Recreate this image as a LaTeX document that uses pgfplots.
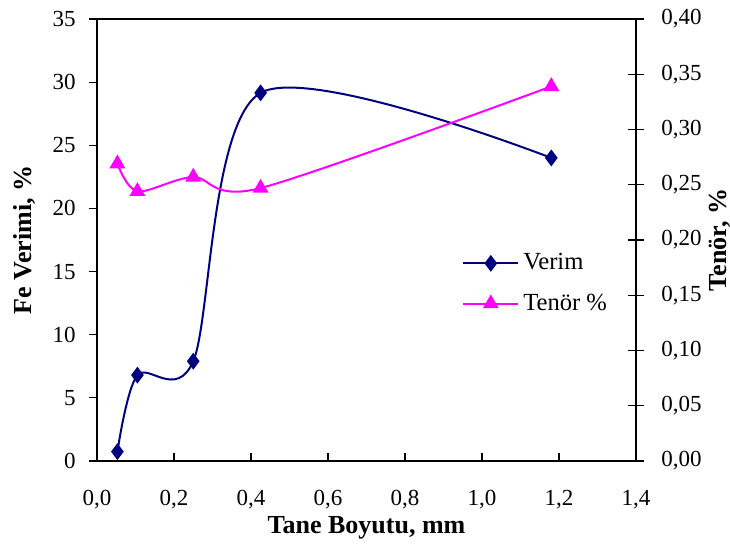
\documentclass[border=0pt]{standalone}
\usepackage{fontspec}
\setmainfont{Liberation Serif}
\usepackage{pgfplots}
\pgfplotsset{compat=1.18}
\definecolor{verim}{RGB}{0,0,128}
\definecolor{tenor}{RGB}{255,0,255}

% Fe verimi (%) ve tenör (%) -- tane boyutuna göre
\pgfplotstableread{
x     verim
0.053 0.74
0.105 6.80
0.250 7.90
0.425 29.15
1.180 24.00
}\verimdata
\pgfplotstableread{
x     tenor
0.053 0.269
0.105 0.244
0.250 0.257
0.425 0.247
1.180 0.339
}\tenordata

\pgfplotsset{
  common/.style={
    at={(0,0)}, anchor=south west,
    scale only axis, width=269.5pt, height=221pt,
    xmin=0, xmax=1.4,
    /pgf/number format/assume math mode=true,
    /pgf/number format/use comma,
    tick style={black, line width=0.6pt},
    axis line style={black, line width=0.7pt},
    ticklabel style={font=\fontsize{11.5}{13}\selectfont},
    label style={font=\bfseries\fontsize{13}{15}\selectfont},
  }
}

\begin{document}
\begin{tikzpicture}
\useasboundingbox (-48.5pt,-42pt) rectangle (316.5pt,230.5pt);
\begin{axis}[
  common,
  ymin=0, ymax=35,
  xtick={0,0.2,0.4,0.6,0.8,1.0,1.2,1.4},
  ytick={0,5,10,15,20,25,30,35},
  xtick pos=left, ytick pos=left,
  tick align=inside, major tick length=4pt,
  ytick style={xshift=-4pt},
  xticklabel style={/pgf/number format/fixed, /pgf/number format/zerofill,
    /pgf/number format/precision=1, anchor=north, inner sep=0pt, yshift=-14.5pt},
  yticklabel style={anchor=east, inner sep=0pt, xshift=-10.5pt},
  xlabel={Tane Boyutu, mm},
  xlabel style={at={(axis description cs:0.5,-0.152)}, anchor=center},
  ylabel={Fe Verimi, \%},
  ylabel style={at={(axis description cs:-0.1336,0.5)}, anchor=center, rotate=0},
]
\addplot[verim, line width=1pt, smooth, tension=0.5,
  mark=diamond*, mark size=3.4pt, mark options={solid, fill=verim}]
  table[x=x, y=verim] {\verimdata};
\end{axis}

\begin{axis}[
  common,
  ymin=0, ymax=0.40,
  xtick=\empty,
  ytick pos=right, yticklabel pos=right,
  ytick={0,0.05,0.10,0.15,0.20,0.25,0.30,0.35,0.40},
  tick align=center, major tick length=8pt,
  yticklabel style={/pgf/number format/fixed, /pgf/number format/zerofill,
    /pgf/number format/precision=2, anchor=west, inner sep=0pt, xshift=8.5pt},
  ylabel={Tenör, \%},
  ylabel style={at={(axis description cs:1.1558,0.5)}, anchor=center, rotate=0},
  legend style={draw=none, fill=none, at={(0.677,0.479)}, anchor=north west,
    font=\fontsize{12.3}{14}\selectfont, row sep=6.5pt, inner sep=0pt},
  legend cell align=left,
  legend image code/.code={
    \draw[mark repeat=2, mark phase=2] plot coordinates {(0pt,0pt) (13.75pt,0pt) (27.5pt,0pt)};},
]
\addlegendimage{verim, line width=1pt, mark=diamond*, mark size=3.4pt, mark options={solid, fill=verim}}
\addlegendentry{Verim}
\addplot[tenor, line width=1pt, smooth, tension=0.5,
  mark=triangle*, mark size=3.6pt, mark options={solid, fill=tenor}]
  table[x=x, y=tenor] {\tenordata};
\addlegendentry{Tenör \%}
\end{axis}
\end{tikzpicture}
\end{document}
